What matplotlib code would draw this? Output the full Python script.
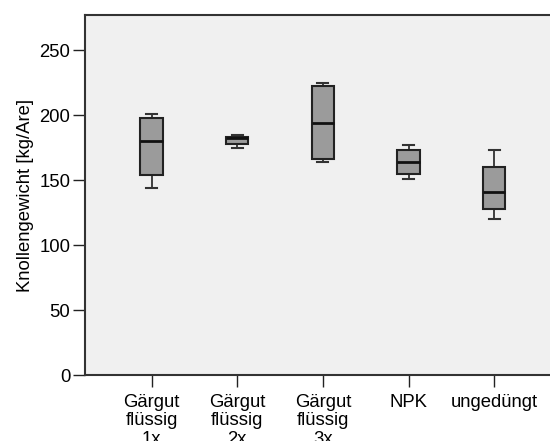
import matplotlib
matplotlib.use("Agg")
import matplotlib.pyplot as plt

# values (kg/Are)
groups = ["Gärgut\nflüssig\n1x", "Gärgut\nflüssig\n2x", "Gärgut\nflüssig\n3x", "NPK", "ungedüngt"]
whisker_low = [144, 175, 164, 151, 120]
q1 = [154, 178, 166, 155, 128]
median = [180, 182, 194, 164, 141]
q3 = [198, 183.5, 222.5, 173, 160]
whisker_high = [201, 184.5, 225, 177, 173]
yticks = [0, 50, 100, 150, 200, 250]

plt.rcParams["font.family"] = ["Liberation Sans", "DejaVu Sans"]

fig = plt.figure(figsize=(5.5, 4.41), dpi=100)
ax = fig.add_axes([85 / 550, 66 / 441, 465 / 550, 360 / 441])
ax.set_facecolor("#f0f0f0")

stats = []
for i in range(len(groups)):
    stats.append({
        "whislo": whisker_low[i], "q1": q1[i], "med": median[i],
        "q3": q3[i], "whishi": whisker_high[i], "fliers": [],
    })

positions = list(range(1, len(groups) + 1))
ax.bxp(stats, positions=positions, widths=0.26, capwidths=0.13,
       patch_artist=True, showfliers=False,
       boxprops=dict(facecolor="#9b9b9b", edgecolor="#222222", linewidth=1.5),
       medianprops=dict(color="#111111", linewidth=2),
       whiskerprops=dict(color="#222222", linewidth=1.2),
       capprops=dict(color="#333333", linewidth=1.5))

ax.set_xlim(0.224, 5.65)
ax.set_ylim(0, 277)
ax.set_yticks(yticks)
ax.set_xticks(positions)
# the third label line is clipped by the lower edge, as in the original
ax.set_xticklabels(groups, linespacing=1.12)
ax.set_ylabel("Knollengewicht [kg/Are]", fontsize=13.3, labelpad=4)

for side in ["left", "bottom", "top"]:
    ax.spines[side].set_color("#333333")
    ax.spines[side].set_linewidth(1.5)
ax.spines["right"].set_visible(False)
ax.tick_params(axis="both", length=8.5, width=1, color="#222222",
               labelsize=13.3)
ax.tick_params(axis="x", pad=5)
ax.tick_params(axis="y", pad=2)

fig.savefig("out.png", dpi=100)
